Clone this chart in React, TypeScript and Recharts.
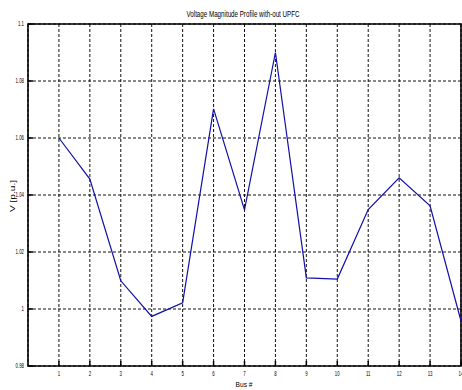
import { LineChart, Line, XAxis, YAxis, CartesianGrid, ReferenceArea } from "recharts"

// Bus voltage magnitudes
const buses = [1, 2, 3, 4, 5, 6, 7, 8, 9, 10, 11, 12, 13, 14]
const voltages = [1.06, 1.0456, 1.0099, 0.9974, 1.0022, 1.0702, 1.0348, 1.09, 1.0109, 1.0105, 1.0349, 1.046, 1.0362, 0.9958]

const xTicks = [1, 2, 3, 4, 5, 6, 7, 8, 9, 10, 11, 12, 13, 14]
const yTicks = [0.98, 1, 1.02, 1.04, 1.06, 1.08, 1.1]
const yTickLabels = ["0.98", "1", "1.02", "1.04", "1.06", "1.08", "1.1"]

const title = "Voltage Magnitude Profile with-out UPFC"
const xLabel = "Bus #"
const yLabel = "V  [p.u.]"

const chartData = buses.map((bus, i) => ({ bus, v: voltages[i] }))

const FONT = "'Liberation Sans', Arial, sans-serif"

// narrow tick text, squeezed like the low-res matlab export
const squeeze = (x: number) => `translate(${x} 0) scale(0.62 1) translate(${-x} 0)`

const BottomTick = ({ x, y, payload }: any) => (
  <g>
    <line x1={x} x2={x} y1={y} y2={y - 5} stroke="#000" strokeWidth={1.5} />
    <text x={x} y={y + 10} textAnchor="middle" fontSize={7} fontFamily={FONT} fill="#000" transform={squeeze(x)}>
      {payload.value}
    </text>
  </g>
)

const TopTick = ({ x, y }: any) => (
  <line x1={x} x2={x} y1={y} y2={y + 5} stroke="#000" strokeWidth={1.5} />
)

const LeftTick = ({ x, y, payload }: any) => {
  const label = yTickLabels[yTicks.indexOf(payload.value)] ?? String(payload.value)
  return (
    <g>
      <line x1={x} x2={x + 5} y1={y} y2={y} stroke="#000" strokeWidth={1.5} />
      <text x={x - 4} y={y + 2.5} textAnchor="end" fontSize={7} fontFamily={FONT} fill="#000" transform={squeeze(x - 4)}>
        {label}
      </text>
    </g>
  )
}

const RightTick = ({ x, y }: any) => (
  <line x1={x} x2={x - 5} y1={y} y2={y} stroke="#000" strokeWidth={1.5} />
)

export default function App() {
  return (
    <div style={{ position: "absolute", left: 0, top: 0, width: 462, height: 390, overflow: "hidden", background: "#fff" }}>
      <LineChart width={480} height={390} data={chartData} margin={{ top: 24, right: 19, bottom: 0, left: 0 }}>
        <CartesianGrid stroke="#111" strokeDasharray="3 2" strokeWidth={1} verticalPoints={undefined} />
        <XAxis
          dataKey="bus"
          type="number"
          domain={[0, 14]}
          ticks={xTicks}
          height={24}
          axisLine={false}
          tickLine={false}
          tickSize={0}
          tickMargin={0}
          tick={<BottomTick />}
          interval={0}
        />
        <XAxis
          xAxisId="top"
          orientation="top"
          type="number"
          domain={[0, 14]}
          ticks={xTicks}
          height={0}
          axisLine={false}
          tickLine={false}
          tickSize={0}
          tickMargin={0}
          tick={<TopTick />}
          interval={0}
        />
        <YAxis
          type="number"
          domain={[0.98, 1.1]}
          ticks={yTicks}
          width={28}
          axisLine={false}
          tickLine={false}
          tickSize={0}
          tickMargin={0}
          tick={<LeftTick />}
          interval={0}
        />
        <YAxis
          yAxisId="right"
          orientation="right"
          type="number"
          domain={[0.98, 1.1]}
          ticks={yTicks}
          width={0}
          axisLine={false}
          tickLine={false}
          tickSize={0}
          tickMargin={0}
          tick={<RightTick />}
          interval={0}
        />
        <Line
          dataKey="v"
          type="linear"
          stroke="#1010a8"
          strokeWidth={1.2}
          dot={false}
          isAnimationActive={false}
        />
        <ReferenceArea x1={0} x2={14} y1={0.98} y2={1.1} fill="none" stroke="#000" strokeWidth={1.6} />
        <text x={243} y={17} textAnchor="middle" fontSize={9} fontFamily={FONT} fill="#000" textLength={113} lengthAdjust="spacingAndGlyphs">
          {title}
        </text>
        <text x={244} y={387} textAnchor="middle" fontSize={8} fontFamily={FONT} fill="#000" textLength={17} lengthAdjust="spacingAndGlyphs">
          {xLabel}
        </text>
        <text x={15} y={196} textAnchor="middle" fontSize={8} fontFamily={FONT} fill="#000" transform="rotate(-90 15 196)" textLength={32} lengthAdjust="spacingAndGlyphs">
          {yLabel}
        </text>
      </LineChart>
    </div>
  )
}
